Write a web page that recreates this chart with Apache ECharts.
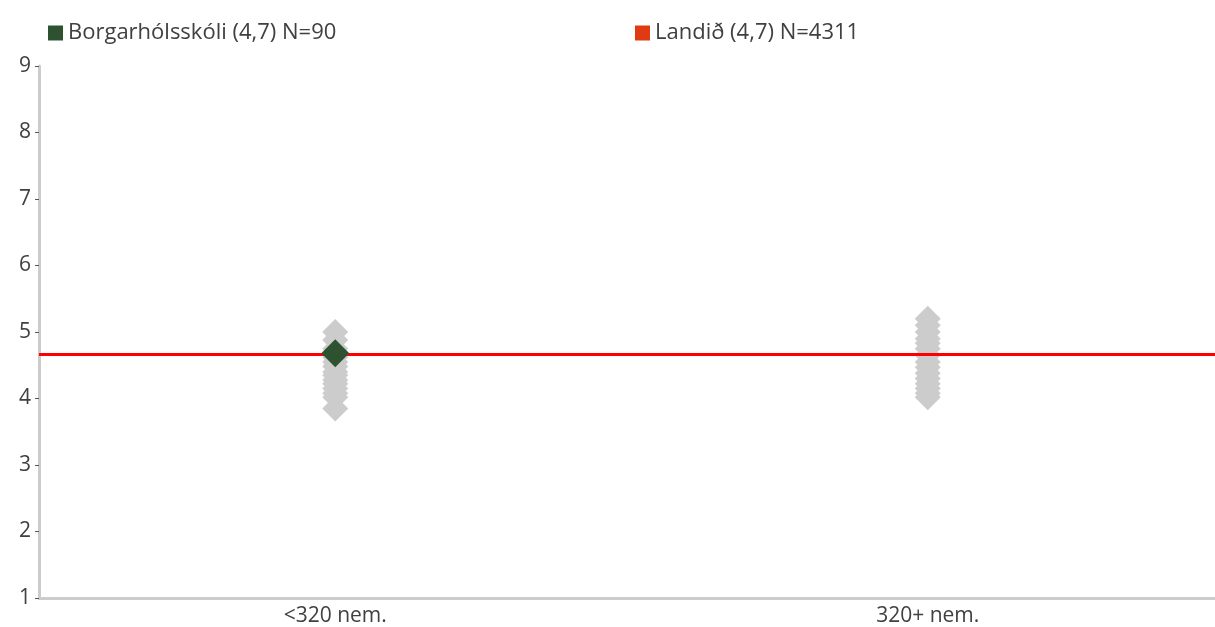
<!DOCTYPE html>
<html><head><meta charset="utf-8">
<script src="https://cdn.jsdelivr.net/npm/echarts@6/dist/echarts.min.js"></script>
<style>html,body{margin:0;padding:0;background:#fff;overflow:hidden;width:1215px;height:627px}#c{width:1224px;height:627px}</style>
</head><body><div id="c"></div>
<script>
const categories = ['<320 nem.', '320+ nem.'];
const yTicks = [1, 2, 3, 4, 5, 6, 7, 8, 9];
const schoolsSmall = [5.0, 4.88, 4.75, 4.62, 4.55, 4.48, 4.4, 4.35, 4.28, 4.22, 4.15, 4.08, 4.02, 3.85];
const schoolsLarge = [5.2, 5.1, 5.0, 4.9, 4.83, 4.75, 4.65, 4.55, 4.47, 4.38, 4.3, 4.22, 4.15, 4.08, 4.02];
const schoolName = 'Borgarhólsskóli (4,7) N=90';
const schoolCat = 0;
const schoolValue = 4.68;
const nationName = 'Landið (4,7) N=4311';
const nationValue = 4.67;

const gray = [];
schoolsSmall.forEach(v => gray.push([0, v]));
schoolsLarge.forEach(v => gray.push([1, v]));

const chart = echarts.init(document.getElementById('c'));
const font = '"Open Sans", Lato, sans-serif';
chart.setOption({
  animation: false,
  textStyle: {fontFamily: font},
  legend: [
    {data: [{name: schoolName, icon: 'rect'}], left: 43, top: 17, itemWidth: 15, itemHeight: 15,
     textStyle: {fontSize: 22, color: '#404040', fontFamily: font}},
    {data: [{name: nationName, icon: 'rect'}], left: 630, top: 17, itemWidth: 15, itemHeight: 15,
     textStyle: {fontSize: 22, color: '#404040', fontFamily: font}}
  ],
  grid: {left: 39, right: 0, top: 66, bottom: 29},
  xAxis: {
    type: 'category', data: categories, boundaryGap: true,
    axisLine: {lineStyle: {color: '#cccccc', width: 3}},
    axisTick: {show: false},
    axisLabel: {fontSize: 21, color: '#404040', margin: 8, fontFamily: font}
  },
  yAxis: {
    type: 'value', min: 1, max: 9, interval: 1,
    splitLine: {show: false},
    axisLine: {show: true, lineStyle: {color: '#cccccc', width: 3}},
    axisTick: {show: true, length: 4, lineStyle: {color: '#555', width: 1}},
    axisLabel: {fontSize: 21, color: '#404040', margin: 8, fontFamily: font,
      formatter: v => yTicks.includes(v) ? String(v) : ''}
  },
  series: [
    {type: 'scatter', name: 'others', data: gray, symbol: 'diamond', symbolSize: [26, 26],
     itemStyle: {color: '#cccccc', opacity: 1}, z: 2, silent: true},
    {type: 'scatter', name: nationName, data: [], itemStyle: {color: '#e03a12', opacity: 1},
     markLine: {symbol: 'none', silent: true, label: {show: false},
       lineStyle: {color: '#ff0000', width: 3, type: 'solid', opacity: 1},
       data: [{yAxis: nationValue}]}, z: 3},
    {type: 'scatter', name: schoolName, data: [[schoolCat, schoolValue]], symbol: 'diamond', symbolSize: [28, 28],
     itemStyle: {color: '#2e5230', opacity: 1}, z: 5}
  ]
});
</script></body></html>
